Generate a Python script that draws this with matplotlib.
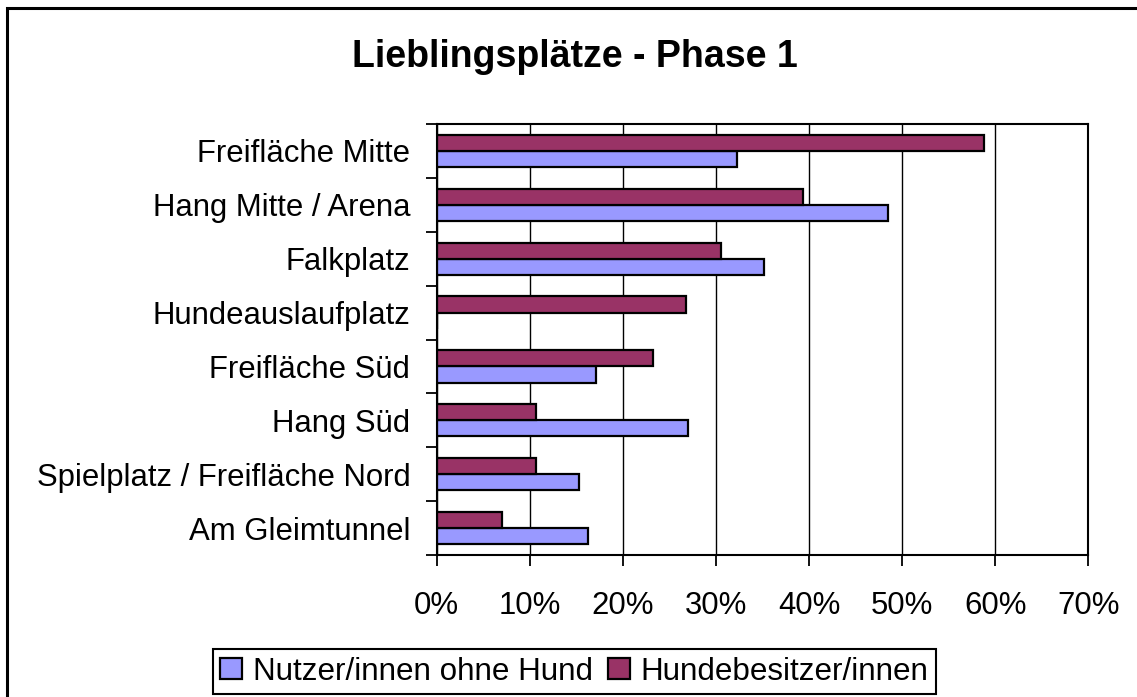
import matplotlib
matplotlib.use("Agg")
import matplotlib.pyplot as plt
import numpy as np
from matplotlib.patches import Rectangle
from matplotlib.ticker import FixedLocator, FuncFormatter

plt.rcParams['font.family'] = ['Liberation Sans', 'DejaVu Sans']

categories = ["Freifläche Mitte", "Hang Mitte / Arena", "Falkplatz", "Hundeauslaufplatz",
              "Freifläche Süd", "Hang Süd", "Spielplatz / Freifläche Nord", "Am Gleimtunnel"]
ohne_hund = [32.3, 48.5, 35.2, 0.0, 17.1, 27.0, 15.3, 16.3]
hundebesitzer = [58.8, 39.3, 30.5, 26.8, 23.2, 10.7, 10.7, 7.0]
series_names = ["Nutzer/innen ohne Hund", "Hundebesitzer/innen"]
x_ticks = [0, 10, 20, 30, 40, 50, 60, 70]
title = "Lieblingsplätze - Phase 1"

W, H = 1137, 697
fig = plt.figure(figsize=(W / 100, H / 100), dpi=100)
ax = fig.add_axes([436.7 / W, 1 - 555 / H, (1088.3 - 436.7) / W, (555 - 124) / H])

blue = "#9999FF"
maroon = "#993366"
y = np.arange(len(categories))
bh = 0.3
b1 = ax.barh(y + bh / 2, ohne_hund, height=bh, color=blue, edgecolor="black", linewidth=1.6,
             label=series_names[0], zorder=3)
b2 = ax.barh(y - bh / 2, hundebesitzer, height=bh, color=maroon, edgecolor="black", linewidth=1.6,
             label=series_names[1], zorder=3)

ax.set_xlim(0, 70)
ax.set_ylim(len(categories) - 0.5, -0.5)
ax.xaxis.set_major_locator(FixedLocator(x_ticks))
ax.xaxis.set_major_formatter(FuncFormatter(lambda v, p: f"{v:.0f}%"))
ax.grid(axis="x", color="black", linewidth=1.0, zorder=0)

ax.yaxis.set_major_locator(FixedLocator(np.arange(len(categories) + 1) - 0.5))
ax.yaxis.set_major_formatter(FuncFormatter(lambda v, p: ""))
ax.set_yticks(y, minor=True)
ax.set_yticklabels(categories, minor=True)
ax.tick_params(axis="y", which="minor", length=0, pad=19, labelsize=22.4)
ax.tick_params(axis="y", which="major", direction="out", length=8, width=1.3)
ax.tick_params(axis="x", which="major", direction="out", length=8, width=1.3, pad=18, labelsize=22.4)

for s in ax.spines.values():
    s.set_color("black")
    s.set_linewidth(1.5)
    s.set_zorder(4)

fig.text(574.5 / W, 1 - 57 / H, title, ha="center", va="center", fontsize=27, fontweight="bold")

leg = fig.legend(handles=[b1, b2], labels=series_names, loc="center",
                 bbox_to_anchor=(574.5 / W, 1 - 671.5 / H), ncol=2, fontsize=22.6,
                 frameon=True, fancybox=False, edgecolor="black", framealpha=1,
                 handlelength=0.68, handleheight=0.68, handletextpad=0.35,
                 columnspacing=0.5, borderpad=0.25, borderaxespad=0)
leg.get_frame().set_linewidth(1.5)

fig.patches.append(Rectangle((7 / W, -0.1), 1.2, 1 - 8 / H + 0.1, transform=fig.transFigure,
                             fill=False, edgecolor="black", linewidth=2.2))

fig.savefig("out.png", dpi=100, facecolor="white")
